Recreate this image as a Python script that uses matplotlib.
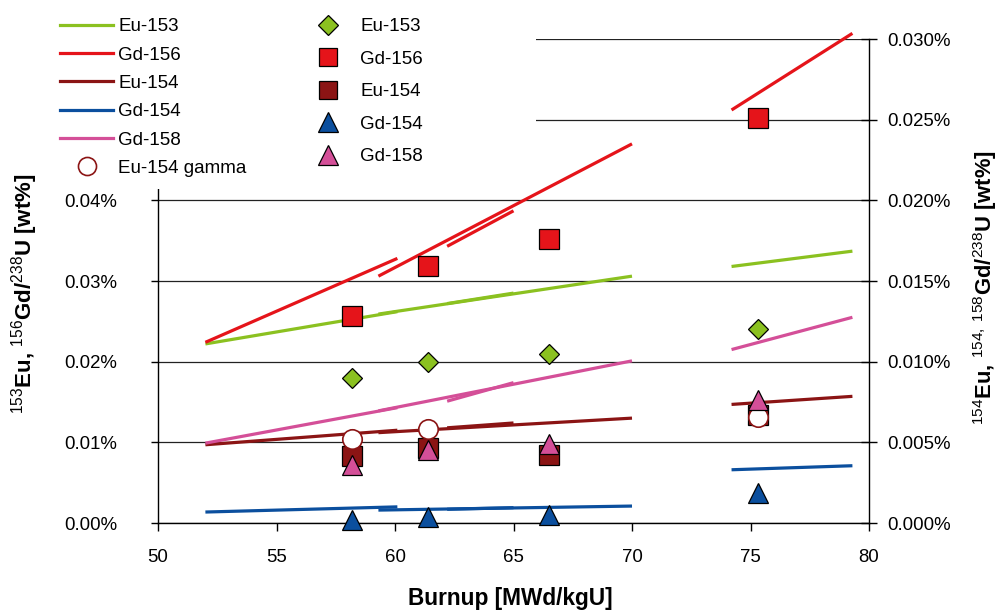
import numpy as np
import matplotlib
matplotlib.use('Agg')
import matplotlib.pyplot as plt
from matplotlib.ticker import FuncFormatter, MultipleLocator
from matplotlib.lines import Line2D
from matplotlib.patches import Rectangle

plt.rcParams['font.family'] = ['Liberation Sans', 'DejaVu Sans']
plt.rcParams['mathtext.fontset'] = 'custom'
plt.rcParams['mathtext.rm'] = 'Liberation Sans'
plt.rcParams['mathtext.it'] = 'Liberation Sans:italic'
plt.rcParams['mathtext.bf'] = 'Liberation Sans:bold'

########## DATA ###############
# calculated curves, drawn as pieces (start/end burnup of each piece)
seg_x = [(52.0, 60.1), (59.3, 70.0), (62.2, 65.0), (74.2, 79.3)]

# left axis [wt%]
calc_eu153 = [(0.0222, 0.0262), (0.0259, 0.0306), (0.0272, 0.0285), (0.0318, 0.0337)]
calc_gd156 = [(0.0224, 0.0328), (0.0306, 0.0470), (0.0343, 0.0387), (0.0512, 0.0607)]
# right axis [wt%]
calc_eu154 = [(0.00485, 0.00575), (0.0056, 0.0065), (0.0059, 0.0062), (0.00735, 0.00785)]
calc_gd154 = [(0.00068, 0.0010), (0.0008, 0.00105), (0.00085, 0.00095), (0.0033, 0.00355)]
calc_gd158 = [(0.00495, 0.00715), (0.00695, 0.01005), (0.00755, 0.0087), (0.01075, 0.01275)]

# measured
burnup = [58.2, 61.4, 66.5, 75.3]
meas_eu153 = [0.0180, 0.0200, 0.0210, 0.0240]     # left
meas_gd156 = [0.0256, 0.0319, 0.0352, 0.0502]     # left
meas_eu154 = [0.00416, 0.00466, 0.0042, 0.0067]   # right
meas_gd154 = [0.0002, 0.00037, 0.0005, 0.00186]   # right
meas_gd158 = [0.0036, 0.00453, 0.0049, 0.0076]    # right
gamma_burnup = [58.2, 61.4, 75.3]
meas_eu154_gamma = [0.0052, 0.0058, 0.0066]       # right

c_green = '#8bc120'
c_red = '#e5141a'
c_dred = '#8b1414'
c_blue = '#0b4f9e'
c_pink = '#d44f98'

W, H = 1008, 613
fig = plt.figure(figsize=(W/100, H/100), dpi=100)
ax = fig.add_axes([158/W, 90/H, 711/W, 484/H])
ax.set_xlim(50, 80)
ax.set_ylim(0, 0.06)
ax2 = ax.twinx()
ax2.set_ylim(0, 0.03)

lw = 2.3
def pieces(a, ys, color):
	for (x0, x1), (y0, y1) in zip(seg_x, ys):
		a.plot([x0, x1], [y0, y1], color=color, lw=lw, solid_capstyle='butt', clip_on=False, zorder=2)

pieces(ax, calc_eu153, c_green)
pieces(ax, calc_gd156, c_red)
pieces(ax2, calc_eu154, c_dred)
pieces(ax2, calc_gd154, c_blue)
pieces(ax2, calc_gd158, c_pink)

mk = dict(ls='none', mec='black', mew=0.9, clip_on=False, zorder=4)
ax.plot(burnup, meas_eu153, marker='D', ms=10.6, mfc=c_green, **mk)
ax.plot(burnup, meas_gd156, marker='s', ms=14, mfc=c_red, **mk)
ax2.plot(burnup, meas_eu154, marker='s', ms=14, mfc=c_dred, **mk)
ax2.plot(burnup, meas_gd154, marker='^', ms=15, mfc=c_blue, **mk)
ax2.plot(gamma_burnup, meas_eu154_gamma, marker='o', ms=14, ls='none', mfc='white',
		 mec=c_dred, mew=1.2, clip_on=False, zorder=4)
ax2.plot(burnup, meas_gd158, marker='^', ms=15, mfc=c_pink, **mk)

# axes styling
for s in ['top', 'right']:
	ax.spines[s].set_visible(False)
for s in ['top', 'left', 'bottom']:
	ax2.spines[s].set_visible(False)
for sp in [ax.spines['left'], ax.spines['bottom'], ax2.spines['right']]:
	sp.set_linewidth(1.0)
	sp.set_color('black')

ax.set_yticks(np.arange(0, 0.061, 0.01))
ax.grid(axis='y', color='#222222', lw=0.9)
ax.xaxis.set_major_locator(MultipleLocator(5))
ax.yaxis.set_major_formatter(FuncFormatter(lambda v, _: '%.2f%%' % v))
ax2.set_yticks(np.arange(0, 0.0301, 0.005))
ax2.yaxis.set_major_formatter(FuncFormatter(lambda v, _: '%.3f%%' % v))

ax.tick_params(axis='y', direction='out', length=5, width=1, pad=24.5, labelsize=13.4)
ax.tick_params(axis='x', direction='out', length=6, width=1, pad=12.5, labelsize=13.4)
ax2.tick_params(axis='y', direction='inout', length=11, width=1, pad=8, labelsize=13.4)

# white block behind the legends (hides upper-left part of the left axis)
fig.add_artist(Rectangle((0, 1 - 189/H), 536/W, 189/H, transform=fig.transFigure,
						 facecolor='white', edgecolor='none', zorder=3))

fig.text(510/W, 1 - 598/H, 'Burnup [MWd/kgU]', fontsize=16.3, fontweight='bold', ha='center', va='center')
fig.text(25/W, 1 - 294/H, r'$^{153}$Eu, $^{156}$Gd/$^{238}$U [wt%]', fontsize=16,
		 fontweight='bold', rotation=90, ha='center', va='center')
fig.text(985/W, 1 - 288/H, r'$^{154}$Eu, $^{154,\ 158}$Gd/$^{238}$U [wt%]', fontsize=15.8,
		 fontweight='bold', rotation=90, ha='center', va='center')

# legends
h1 = [Line2D([], [], color=c, lw=lw) for c in [c_green, c_red, c_dred, c_blue, c_pink]]
h1.append(Line2D([], [], ls='none', marker='o', ms=13, mfc='white', mec=c_dred, mew=1.2))
l1 = ['Eu-153', 'Gd-156', 'Eu-154', 'Gd-154', 'Gd-158', 'Eu-154 gamma']
leg1 = fig.legend(h1, l1, loc='upper left', bbox_to_anchor=(60/W, 1 - 18/H), frameon=False,
				  fontsize=13.5, handlelength=2.85, handletextpad=0.25, labelspacing=0.6,
				  borderpad=0, borderaxespad=0)

h2 = [Line2D([], [], ls='none', marker='D', ms=10, mfc=c_green, mec='black', mew=0.9),
	  Line2D([], [], ls='none', marker='s', ms=12.5, mfc=c_red, mec='black', mew=0.9),
	  Line2D([], [], ls='none', marker='s', ms=12.5, mfc=c_dred, mec='black', mew=0.9),
	  Line2D([], [], ls='none', marker='^', ms=14, mfc=c_blue, mec='black', mew=0.9),
	  Line2D([], [], ls='none', marker='^', ms=14, mfc=c_pink, mec='black', mew=0.9)]
l2 = ['Eu-153', 'Gd-156', 'Eu-154', 'Gd-154', 'Gd-158']
leg2 = fig.legend(h2, l2, loc='upper left', bbox_to_anchor=(319/W, 1 - 18/H), frameon=False,
				  fontsize=13.5, handlelength=1.0, handletextpad=1.2, labelspacing=0.82,
				  borderpad=0, borderaxespad=0)

fig.savefig('out.png', dpi=100)
